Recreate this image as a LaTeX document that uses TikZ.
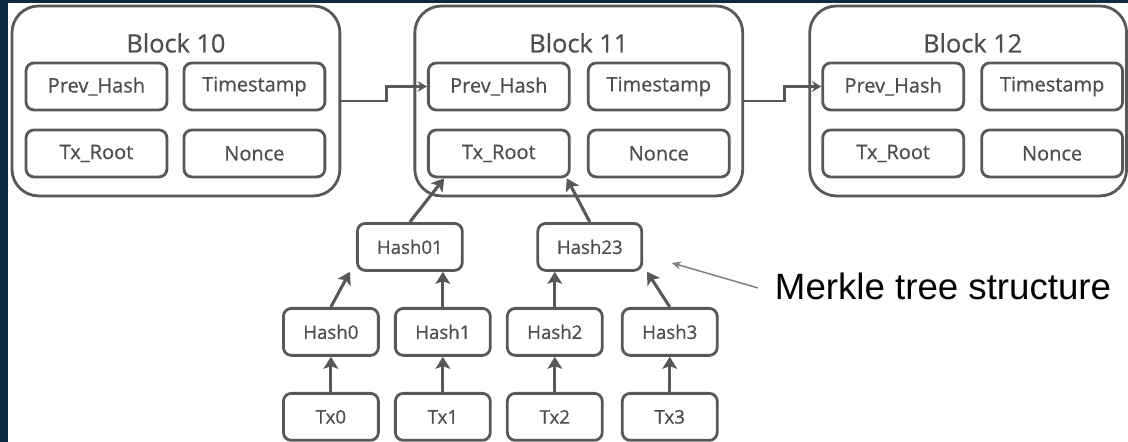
\documentclass[tikz,border=0pt]{standalone}
\usepackage{fontspec}
\setmainfont{Open Sans}
\newfontfamily\boxfont[FakeBold=0.6]{Open Sans}
\newfontfamily\arialfont{Liberation Sans}
\usepackage{tikz}
\usetikzlibrary{arrows.meta}

\definecolor{slidebg}{RGB}{14,42,62}
\definecolor{boxgray}{RGB}{88,88,88}
\definecolor{txtgray}{RGB}{78,78,78}

\tikzset{
  blockbox/.style={draw=boxgray, line width=2.1pt, rounded corners=20pt, inner sep=0pt, minimum height=142.5pt},
  blocktitle/.style={text=txtgray, inner sep=0pt, font=\boxfont\fontsize{19pt}{22pt}\selectfont},
  fieldbox/.style={draw=boxgray, line width=2.1pt, rounded corners=6pt, fill=white, text=txtgray, minimum width=105.75pt, minimum height=35.25pt, inner sep=0pt, font=\boxfont\fontsize{15pt}{18pt}\selectfont},
  treebox/.style={fieldbox, minimum width=71.25pt, font=\boxfont\fontsize{14pt}{17pt}\selectfont},
  link/.style={draw=boxgray, line width=2.3pt, -{Stealth[length=9pt,width=11pt,inset=2pt]}},
  chain/.style={draw=boxgray, line width=2.1pt, -{Stealth[length=7pt,width=8pt]}}
}

\begin{document}
\begin{tikzpicture}[x=0.75pt,y=0.75pt,yscale=-1,xscale=1]
% Background
\fill [slidebg] (0,0) rectangle (1128,442);
\fill [white] (8,3) rectangle (1128,442);

% Block 10
\draw (176,101) node [blockbox, minimum width=246pt] (blk10) {};
\draw (176,43) node [blocktitle] (ttl10) {Block 10};
\draw (96.5,86.5) node [fieldbox] (prev10) {Prev\_Hash};
\draw (254.5,86.5) node [fieldbox] (time10) {Timestamp};
\draw (96.5,153.5) node [fieldbox] (root10) {Tx\_Root};
\draw (254.5,153.5) node [fieldbox] (nonce10) {Nonce};

% Block 11
\draw (579,101) node [blockbox, minimum width=246pt] (blk11) {};
\draw (579,43) node [blocktitle] (ttl11) {Block 11};
\draw (499,86.5) node [fieldbox] (prev11) {Prev\_Hash};
\draw (659,86.5) node [fieldbox] (time11) {Timestamp};
\draw (499,153.5) node [fieldbox] (root11) {Tx\_Root};
\draw (659,153.5) node [fieldbox] (nonce11) {Nonce};

% Block 12
\draw (968.5,101) node [blockbox, minimum width=237.75pt] (blk12) {};
\draw (973,43) node [blocktitle] (ttl12) {Block 12};
\draw (893.5,86.5) node [fieldbox] (prev12) {Prev\_Hash};
\draw (1052.5,86.5) node [fieldbox] (time12) {Timestamp};
\draw (893.5,153.5) node [fieldbox] (root12) {Tx\_Root};
\draw (1052.5,153.5) node [fieldbox] (nonce12) {Nonce};

% Chain links
\draw [chain] (blk10.east) -- ++(45,0) |- (prev11.west);
\draw [chain] (blk11.east) -- ++(40,0) |- (prev12.west);

% Merkle tree
\draw (410,247) node [treebox, minimum width=78.75pt] (h01) {Hash01};
\draw (590,247) node [treebox, minimum width=78pt] (h23) {Hash23};
\draw (331,332) node [treebox] (h0) {Hash0};
\draw (443,332) node [treebox] (h1) {Hash1};
\draw (555,332) node [treebox] (h2) {Hash2};
\draw (670,332) node [treebox] (h3) {Hash3};
\draw (331,417) node [treebox] (tx0) {Tx0};
\draw (443,417) node [treebox] (tx1) {Tx1};
\draw (555,417) node [treebox] (tx2) {Tx2};
\draw (670,417) node [treebox] (tx3) {Tx3};

% Connection
\draw [link] (tx0.north) -- (h0.south);
\draw [link] (tx1.north) -- (h1.south);
\draw [link] (tx2.north) -- (h2.south);
\draw [link] (tx3.north) -- (h3.south);
\draw [link] (h0.north) -- ([xshift=-45]h01.south);
\draw [link] (h1.north) -- (h1.north |- h01.south);
\draw [link] (h2.north) -- (h2.north |- h23.south);
\draw [link] (h3.north) -- ([xshift=43]h23.south);
\draw [link] (h01.north) -- ([xshift=-41]root11.south);
\draw [link] (h23.north) -- ([xshift=51]root11.south);

% Annotation
\coordinate (notetip) at (672,263);
\draw (775,286) node [anchor=west, inner sep=0pt, font=\arialfont\fontsize{27.5pt}{32pt}\selectfont] (note) {Merkle tree structure};
\draw [draw=gray, line width=1.1pt, -{Stealth[length=7pt,width=6pt]}] (note.west) ++(-17,2) -- (notetip);
\end{tikzpicture}
\end{document}
